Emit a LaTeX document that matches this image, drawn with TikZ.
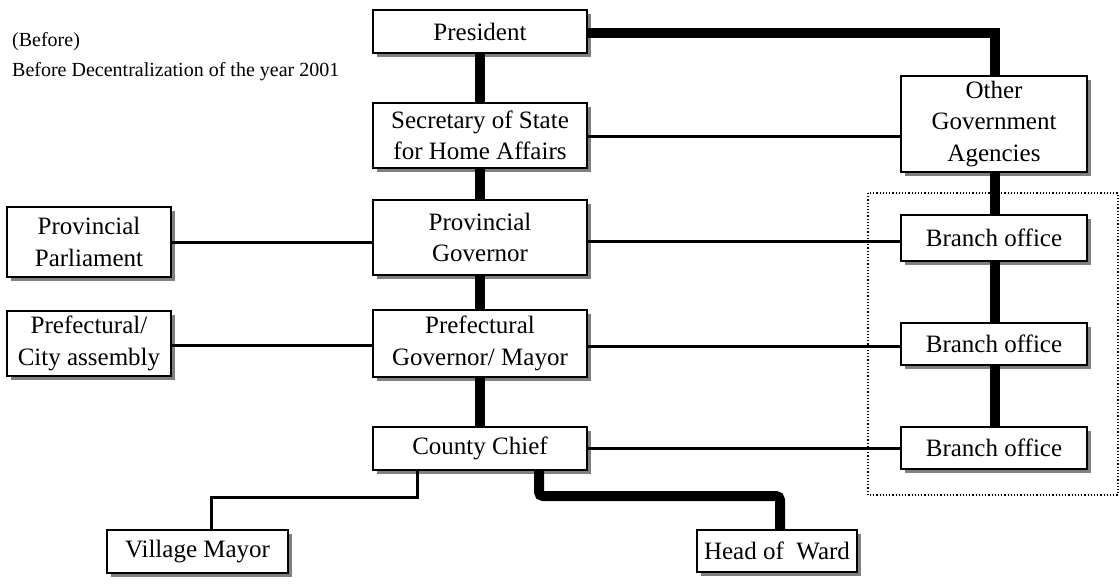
\documentclass[tikz,border=0pt]{standalone}
\usepackage{fontspec}
\setmainfont{Liberation Serif}
\usetikzlibrary{shadows}
\begin{document}
\begin{tikzpicture}[x=1pt,y=-1pt,
  box/.style={draw=black, line width=2pt, fill=white, align=center, inner sep=0pt,
    font=\fontsize{25}{31.5}\selectfont,
    drop shadow={shadow xshift=4pt, shadow yshift=-4pt, fill=black!50, opacity=1}},
  heavy/.style={line width=10pt, line cap=butt},
  light/.style={line width=3pt},
  note/.style={anchor=west, inner sep=0pt, font=\fontsize{20}{24}\selectfont}]
\useasboundingbox (0,0) rectangle (1120,585);

% notes
\node[note] (n1) at (12,42) {(Before)};
\node[note] (n2) at (12,72) {Before Decentralization of the year 2001};

% grouping frame for branch offices
\draw[dotted, line width=1.2pt] (868,193) rectangle (1118,495);

% main chain
\node[box, minimum width=214pt, minimum height=43pt] (pres) at (480,31.5) {President};
\node[box, minimum width=214pt, minimum height=65pt] (sec) at (480,135.5) {Secretary of State\\for Home Affairs};
\node[box, minimum width=214pt, minimum height=75pt] (pgov) at (480,237.5) {Provincial\\Governor};
\node[box, minimum width=214pt, minimum height=67pt] (pref) at (480,343.5) {Prefectural\\Governor/ Mayor};
\node[box, minimum width=214pt, minimum height=43pt] (county) at (480,448.5) {County Chief};

% agencies column
\node[box, minimum width=186pt, minimum height=96pt] (other) at (994,124) {Other\\Government\\Agencies};
\node[box, minimum width=186pt, minimum height=46pt] (br1) at (994,238) {Branch office};
\node[box, minimum width=186pt, minimum height=42pt] (br2) at (994,344) {Branch office};
\node[box, minimum width=186pt, minimum height=42pt] (br3) at (994,448) {Branch office};

% assemblies
\node[box, minimum width=164pt, minimum height=70pt] (ppar) at (89,242) {Provincial\\Parliament};
\node[box, minimum width=164pt, minimum height=65pt] (pca) at (89,343.5) {Prefectural/\\City assembly};

% lowest level
\node[box, minimum width=181pt, minimum height=43pt] (village) at (197.5,551.5) {Village Mayor};
\node[box, minimum width=160pt, minimum height=42pt] (ward) at (777,551) {Head of\ \ Ward};

% heavy command lines
\draw[heavy] (pres.south) -- (sec.north);
\draw[heavy] (sec.south) -- (pgov.north);
\draw[heavy] (pgov.south) -- (pref.north);
\draw[heavy] (pref.south) -- (county.north);
\draw[heavy] ([yshift=-1.5pt]pres.east) -| ([xshift=1pt]other.north);
\draw[heavy] ([xshift=1pt]other.south) -- ([xshift=1pt]br1.north);
\draw[heavy] ([xshift=1pt]br1.south) -- ([xshift=1pt]br2.north);
\draw[heavy] ([xshift=1pt]br2.south) -- ([xshift=1pt]br3.north);
\draw[heavy, rounded corners=4pt] ([xshift=59pt]county.south) |- ([xshift=3pt,yshift=33pt]ward.north) -- ([xshift=3pt]ward.north);

% light coordination lines
\draw[light] ([yshift=-1.5pt]sec.east) -- ([yshift=-1.5pt]sec.east -| other.west);
\draw[light] ([yshift=-4.5pt]pgov.east) -- ([yshift=-4.5pt]pgov.east -| br1.west);
\draw[light] ([yshift=-3.5pt]pref.east) -- ([yshift=-3.5pt]pref.east -| br2.west);
\draw[light] (county.east) -- (county.east -| br3.west);
\draw[light] ([yshift=-1pt]ppar.east) -- ([yshift=-1pt]ppar.east -| pgov.west);
\draw[light] ([yshift=-2.5pt]pca.east) -- ([yshift=-2.5pt]pca.east -| pref.west);
\draw[light] ([xshift=-63pt]county.south) |- ([xshift=13.5pt,yshift=32pt]village.north) -- ([xshift=13.5pt]village.north);
\end{tikzpicture}
\end{document}
